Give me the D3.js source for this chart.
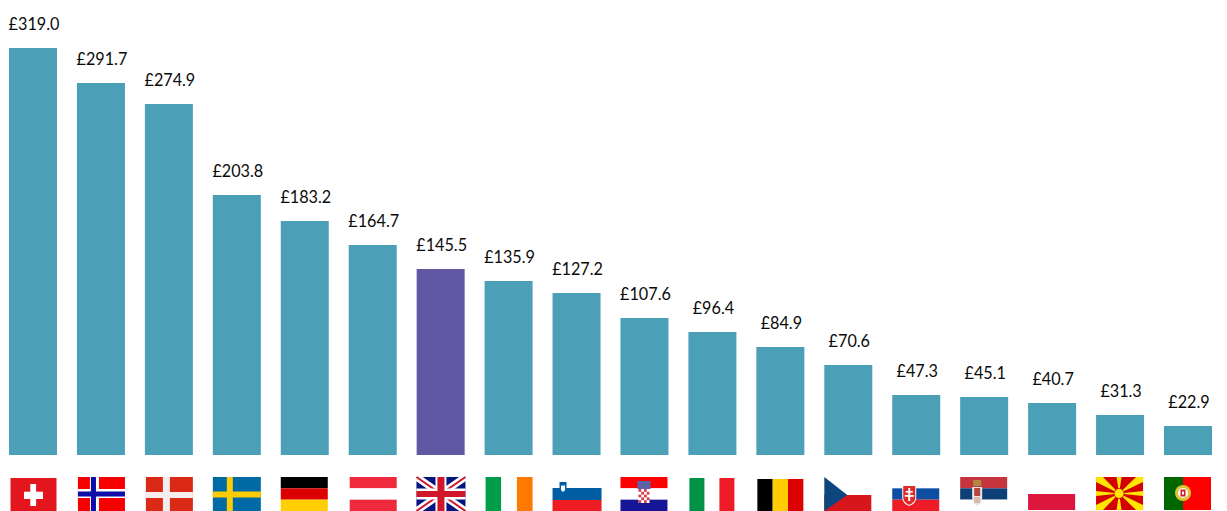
<!DOCTYPE html>
<html><head><meta charset="utf-8">
<script src="https://cdn.jsdelivr.net/npm/d3@7"></script>
<style>html,body{margin:0;padding:0;background:#fff;overflow:hidden}svg{display:block}text{font-family:Lato,sans-serif}</style>
</head><body><svg id="c" width="1227" height="511"></svg>
<script>
const countries=["CH","NO","DK","SE","DE","AT","UK","IE","SI","HR","IT","BE","CZ","SK","RS","PL","MK","PT"];
const values=[319.0,291.7,274.9,203.8,183.2,164.7,145.5,135.9,127.2,107.6,96.4,84.9,70.6,47.3,45.1,40.7,31.3,22.9];
const barColor="#4BA0B8", highlight="#6058A2", highlighted="UK";

const svg=d3.select("#c");
const x=d3.scaleBand().domain(countries).range([9,1212]).paddingInner(0.2935).paddingOuter(0);
const y=d3.scaleLinear().domain([0,319]).range([455,47.7]);
const defs=svg.append("defs");
defs.append("filter").attr("id","soft").append("feGaussianBlur").attr("stdDeviation",0.3);

svg.selectAll("rect.bar").data(countries).join("rect").attr("class","bar")
 .attr("x",d=>x(d)).attr("width",x.bandwidth())
 .attr("y",(d,i)=>Math.round(y(values[i]))).attr("height",(d,i)=>y(0)-Math.round(y(values[i])))
 .attr("fill",d=>d===highlighted?highlight:barColor);

svg.selectAll("text.v").data(countries).join("text").attr("class","v")
 .attr("transform",(d,i)=>`translate(${x(d)+x.bandwidth()/2+1},${Math.round(y(values[i]))-18.3}) scale(0.9,1)`)
 .attr("text-anchor","middle").attr("font-size",18).attr("fill","#0a0a0a")
 .text((d,i)=>"£"+values[i].toFixed(1));

function R(g,a,b,w,h,c){g.append("rect").attr("x",a).attr("y",b).attr("width",w).attr("height",h).attr("fill",c)}
function P(g,p,c){g.append("polygon").attr("points",p).attr("fill",c)}
function H(g,cs,y0=0,h=34){cs.forEach((c,i)=>R(g,0,y0+i*h/cs.length,47,h/cs.length,c))}
function V(g,cs,y0=0,h=34,w=47){cs.forEach((c,i)=>R(g,i*w/cs.length,y0,w/cs.length,h,c))}
const flags={
 CH(g){R(g,1,1,46,33,"#E2141E");R(g,20.8,7,5.8,22,"#fff");R(g,14.5,14.7,19,7.3,"#fff")},
 NO(g){R(g,0,0,47,34,"#F60000");R(g,12,0,9,34,"#fff");R(g,0,12,47,9,"#fff");R(g,13,0,5,34,"#0A0AA8");R(g,0,14.5,47,5,"#0A0AA8")},
 DK(g){R(g,0,0,47,34,"#DA2A16");R(g,17,0,7,34,"#F4EEEE");R(g,0,15,47,6,"#F4EEEE")},
 SE(g){R(g,0,0,48,34,"#006AA7");R(g,14,0,6,34,"#FECC00");R(g,0,14.5,48,6,"#FECC00")},
 DE(g){H(g,["#000","#DD0000","#FFCE00"])},
 AT(g){H(g,["#EF2B3D","#fff","#EF2B3D"])},
 UK(g){R(g,0,0,49,34,"#00137E");
  g.append("path").attr("d","M0,0L49,34M49,0L0,34").attr("stroke","#fff").attr("stroke-width",7);
  g.append("path").attr("d","M0,0L49,34M49,0L0,34").attr("stroke","#CF142B").attr("stroke-width",2);
  R(g,19,0,11,34,"#fff");R(g,0,11.5,49,11,"#fff");R(g,21,0,7,34,"#CF142B");R(g,0,14,49,6,"#CF142B")},
 IE(g){V(g,["#009E49","#fff","#FF7900"])},
 SI(g){R(g,0,11,49,12,"#005DA4");R(g,0,23,49,11,"#ED1C24");
  g.append("path").attr("d","M7,5h7v8q0,3,-3.5,5q-3.5,-2,-3.5,-5z").attr("fill","#005DA4");
  g.append("path").attr("d","M8.5,8.5h4v4.5q-2,3.5,-4,0z").attr("fill","#fff")},
 HR(g){H(g,["#FF0000","#fff","#171796"]);
  R(g,17,4,13,8,"#5A62A8");
  R(g,18,12,11,14,"#fff");
  for(let r=0;r<5;r++)for(let c=0;c<4;c++)if((r+c)%2==0)R(g,18+c*2.75,12+r*2.8,2.75,2.8,"#D8404A");},
 IT(g){R(g,0,1,15,33,"#009246");R(g,30,1,15,33,"#EE1C25")},
 BE(g){V(g,["#000","#FFCD00","#DD0000"],2,32,46)},
 CZ(g){R(g,0,18,47,16,"#D7141A");P(g,"0,0 23,18 0,34","#11457E")},
 SK(g){H(g,["#fff","#0B4EA2","#EE1C25"]);
  g.append("path").attr("d","M10,8h14v13q0,5,-7,8q-7,-3,-7,-8z").attr("fill","#fff");
  g.append("path").attr("d","M11,9h12v12q0,4,-6,7q-6,-3,-6,-7z").attr("fill","#DD2A2A");
  R(g,16,11,2,13,"#fff");R(g,13.5,14,7,1.6,"#fff");R(g,12.5,18,9,1.8,"#fff")},
 RS(g){H(g,["#C6363C","#0C4076","#fff"]);
  g.append("path").attr("d","M12,10h10v11q0,5,-5,8q-5,-3,-5,-8z").attr("fill","#EFE6E2");
  R(g,13,3,8,6,"#B08A3E");R(g,14,11,6,8,"#B5453F");R(g,14,20,6,6,"#D9B8B0")},
 PL(g){R(g,0,17,47,16,"#DC143C")},
 MK(g){R(g,0,0,47,33,"#D20000");const cx=23,cy=16.5;
  g.append("path").attr("d",`M${cx-2.5},0H${cx+2.5}L${cx},${cy}ZM${cx-2.5},33H${cx+2.5}L${cx},${cy}ZM0,${cy-2.5}V${cy+2.5}L${cx},${cy}ZM47,${cy-2.5}V${cy+2.5}L${cx},${cy}ZM0,0H7L${cx},${cy}L0,5ZM47,0H40L${cx},${cy}L47,5ZM0,33H7L${cx},${cy}L0,28ZM47,33H40L${cx},${cy}L47,28Z`).attr("fill","#FFE600");
  g.append("circle").attr("cx",cx).attr("cy",cy).attr("r",5).attr("fill","#FFE600").attr("stroke","#D20000").attr("stroke-width",.8)},
 PT(g){R(g,0,0,47,33,"#FF0000");R(g,0,0,19,33,"#006600");
  g.append("circle").attr("cx",19).attr("cy",16).attr("r",8).attr("fill","#D8C33A");
  g.append("circle").attr("cx",19).attr("cy",16).attr("r",5).attr("fill","#fff");
  R(g,16.5,12.5,5,7,"#D01C1C");R(g,18,14.5,2,3,"#fff")}
};
const flagOffset={CH:0.5,NO:1,DK:1,SE:0,DE:0,AT:1,UK:-0.2,IE:1,SI:0,HR:0,IT:1,BE:1,CZ:0,SK:0,RS:0,PL:0,MK:0,PT:0};
svg.selectAll("g.flag").data(countries).join("g").attr("class","flag")
 .attr("transform",d=>`translate(${x(d)+flagOffset[d]},477)`)
 .attr("filter","url(#soft)")
 .each(function(d){flags[d](d3.select(this))});
</script></body></html>
